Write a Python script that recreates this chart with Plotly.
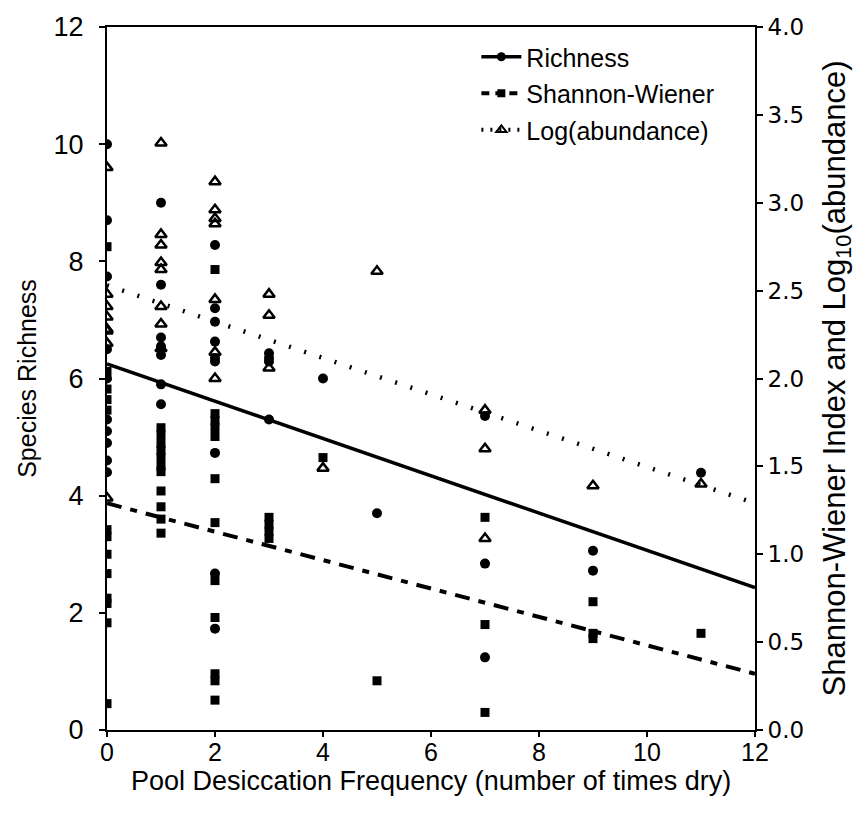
import plotly.graph_objects as go

# ---- data ----
rich_x = [0,0,0,0,0,0,0,0,0,0,
          1,1,1,1,1,1,1,
          2,2,2,2,2,2,2,2,2,
          3,3,3,3,
          4, 5, 7,7,7, 9,9, 11]
rich_y = [10.0,8.7,7.74,6.5,6.0,5.3,5.1,4.9,4.6,4.4,
          9.0,7.6,6.7,6.4,5.9,5.56,6.55,
          8.28,7.2,6.97,6.63,6.29,4.73,2.67,1.73,6.35,
          6.43,6.29,5.3,6.35,
          6.0, 3.7, 5.36,2.84,1.24, 3.06,2.72, 4.39]

sw_x = [0,0,0,0,0,0,0,0,0,0,0,0,0,
        1,1,1,1,1,1,1,1,1,1,1,
        2,2,2,2,2,2,2,2,2,2,2,2,
        3,3,3,3,
        4, 5, 7,7,7, 9,9,9, 11]
sw_y = [2.75,2.04,1.94,1.88,1.82,1.14,1.1,1.0,0.89,0.75,0.72,0.61,0.15,
        1.72,1.68,1.63,1.59,1.55,1.5,1.47,1.36,1.27,1.2,1.12,
        2.62,1.8,1.76,1.72,1.67,1.43,1.18,0.85,0.64,0.32,0.28,0.17,
        1.21,1.17,1.13,1.09,
        1.55, 0.28, 1.21,0.6,0.1, 0.73,0.55,0.52, 0.55]

ab_x = [0,0,0,0,0,0,0,0,
        1,1,1,1,1,1,1,1,
        2,2,2,2,2,2,2,
        3,3,3,
        4, 5, 7,7,7, 9, 11]
ab_y = [3.2,2.48,2.41,2.35,2.27,2.28,2.2,1.32,
        3.34,2.82,2.76,2.66,2.62,2.41,2.31,2.17,
        3.12,2.96,2.91,2.88,2.45,2.15,2.0,
        2.48,2.36,2.06,
        1.49, 2.61, 1.82,1.6,1.09, 1.39, 1.4]

fit_x = [0, 12]
rich_fit = [6.25, 2.43]
sw_fit = [1.29, 0.32]
ab_fit = [2.53, 1.29]

X_TITLE = "Pool Desiccation Frequency (number of times dry)"

FONT = "Liberation Sans Narrow, Arial Narrow, Liberation Sans, Arial, sans-serif"
FONT_REG = "Liberation Sans, Arial, sans-serif"

fig = go.Figure()

# fit lines
fig.add_trace(go.Scatter(x=fit_x, y=rich_fit, mode="lines", showlegend=False,
                         line=dict(color="black", width=3.5)))
fig.add_trace(go.Scatter(x=fit_x, y=sw_fit, mode="lines", showlegend=False, yaxis="y2",
                         line=dict(color="black", width=4, dash="15px,9px,7px,9px")))
fig.add_trace(go.Scatter(x=fit_x, y=ab_fit, mode="lines", showlegend=False, yaxis="y2",
                         line=dict(color="black", width=4.5, dash="2px,14px")))

# points
fig.add_trace(go.Scatter(x=rich_x, y=rich_y, mode="markers", showlegend=False,
                         marker=dict(symbol="circle", size=10, color="black")))
fig.add_trace(go.Scatter(x=sw_x, y=sw_y, mode="markers", showlegend=False, yaxis="y2",
                         marker=dict(symbol="square", size=9, color="black")))
fig.add_trace(go.Scatter(x=ab_x, y=ab_y, mode="markers", showlegend=False, yaxis="y2",
                         marker=dict(symbol="triangle-up-open", size=10, color="black",
                                     line=dict(width=2.5, color="black"))))

# legend entries
fig.add_trace(go.Scatter(x=[None], y=[None], mode="lines+markers", name="Richness",
                         legendgroup="a",
                         line=dict(color="black", width=3.5),
                         marker=dict(symbol="circle", size=9, color="black")))
fig.add_trace(go.Scatter(x=[None], y=[None], mode="lines+markers", name="Shannon-Wiener",
                         yaxis="y2", legendgroup="b",
                         line=dict(color="black", width=4, dash="8px,6px"),
                         marker=dict(symbol="square", size=8, color="black")))
fig.add_trace(go.Scatter(x=[None], y=[None], mode="lines+markers", name="Log(abundance)",
                         yaxis="y2", legendgroup="c",
                         line=dict(color="black", width=4, dash="2px,7px"),
                         marker=dict(symbol="triangle-up-open", size=9, color="black",
                                     line=dict(width=2, color="black"))))

fig.add_annotation(text=X_TITLE, xref="paper", yref="paper", x=0.5, y=-0.072,
                   xanchor="center", yanchor="middle", showarrow=False,
                   font=dict(size=27, family=FONT, color="black"))

fig.update_layout(
    width=859, height=819,
    margin=dict(l=107, r=104, t=24, b=89),
    paper_bgcolor="white", plot_bgcolor="white",
    font=dict(family=FONT, color="black", size=20),
    xaxis=dict(range=[0, 12], dtick=2, showgrid=False, zeroline=False,
               showline=True, linecolor="black", linewidth=2, mirror=True,
               ticks="outside", ticklen=5, tickwidth=2, tickcolor="black",
               tickfont=dict(size=25), ticklabelstandoff=-6),
    yaxis=dict(range=[0, 12], dtick=2, showgrid=False, zeroline=False,
               showline=True, linecolor="black", linewidth=2,
               ticks="outside", ticklen=6, tickwidth=2, tickcolor="black",
               tickfont=dict(size=27), ticklabelstandoff=10,
               title=dict(text="Species Richness", font=dict(size=25), standoff=10)),
    yaxis2=dict(range=[0, 4], dtick=0.5, tickformat=".1f", overlaying="y", side="right",
                showgrid=False, zeroline=False,
                showline=True, linecolor="black", linewidth=2,
                ticks="outside", ticklen=6, tickwidth=2, tickcolor="black",
                tickfont=dict(size=23, family="DejaVu Sans, sans-serif"),
                title=dict(text="Shannon-Wiener Index and Log<sub>10</sub>(abundance)",
                           font=dict(size=31), standoff=20)),
    legend=dict(x=0.57, y=0.99, xanchor="left", yanchor="top",
                bgcolor="rgba(0,0,0,0)", font=dict(size=25, family=FONT_REG),
                itemwidth=40, tracegroupgap=1),
)

fig.write_html("out.html")
